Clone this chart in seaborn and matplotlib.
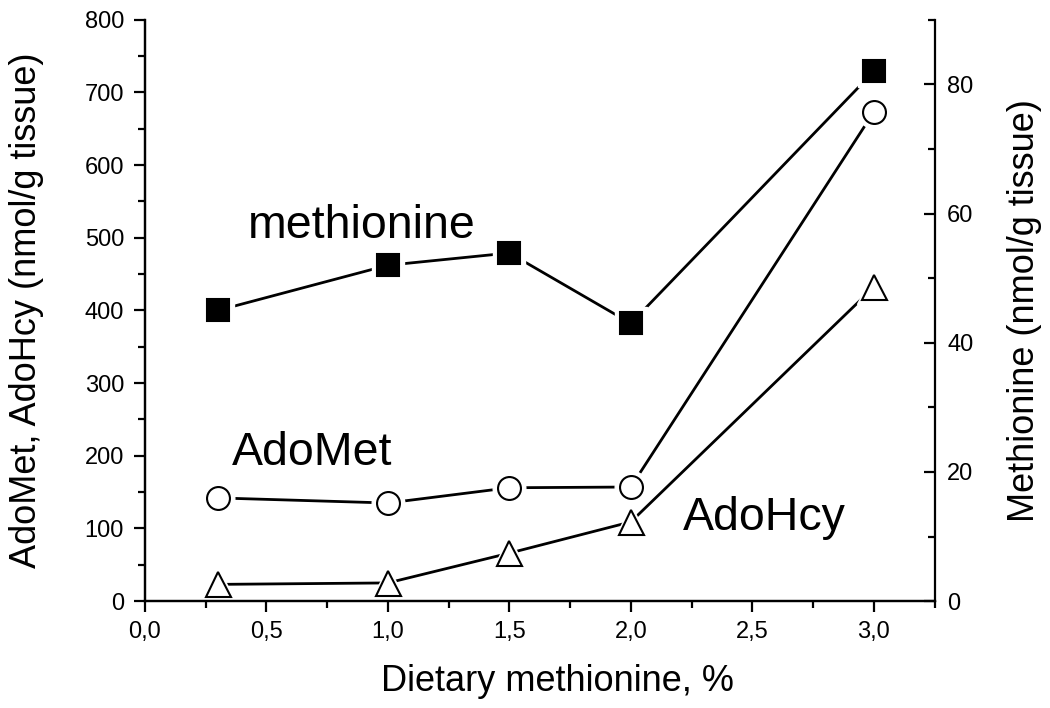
import pandas as pd
import matplotlib
matplotlib.use("Agg")
import matplotlib.pyplot as plt
from matplotlib.ticker import MultipleLocator, FuncFormatter
import seaborn as sns

# values
diet = [0.3, 1.0, 1.5, 2.0, 3.0]
methionine = [45.0, 52.0, 53.9, 43.0, 82.0]   # right axis
adomet = [142, 135, 156, 157, 673]             # left axis
adohcy = [23, 25, 66, 109, 432]                # left axis

xticks = [0.0, 0.5, 1.0, 1.5, 2.0, 2.5, 3.0]
left_ticks = [0, 100, 200, 300, 400, 500, 600, 700, 800]
right_ticks = [0, 20, 40, 60, 80]

df = pd.DataFrame({"diet": diet, "methionine": methionine,
                   "adomet": adomet, "adohcy": adohcy})

sns.set_theme(style="ticks", rc={"text.color": "black", "axes.labelcolor": "black",
                                 "xtick.color": "black", "ytick.color": "black",
                                 "axes.edgecolor": "black"})
plt.rcParams["font.family"] = ["Liberation Sans", "DejaVu Sans"]

fig, ax = plt.subplots(figsize=(10.5, 7.08), dpi=100)
fig.subplots_adjust(left=0.138, right=0.890, bottom=0.151, top=0.972)
ax2 = ax.twinx()


def draw(axis, col, marker, ms, fill):
    sns.lineplot(data=df, x="diet", y=col, ax=axis, color="black",
                 linewidth=2.0, zorder=1)
    # white halo so the line stops short of the marker
    axis.plot(df["diet"], df[col], linestyle="", marker=marker, ms=ms + 7,
              mfc="white", mec="white", zorder=2)
    axis.plot(df["diet"], df[col], linestyle="", marker=marker, ms=ms,
              mfc=fill, mec="black", mew=1.5, zorder=3)


draw(ax, "adomet", "o", 16.5, "white")
draw(ax, "adohcy", "^", 18, "white")
draw(ax2, "methionine", "s", 16, "black")

ax.set_xlim(0, 3.25)
ax.set_ylim(0, 800)
ax2.set_ylim(0, 90)

ax.set_xticks(xticks)
ax.xaxis.set_major_formatter(FuncFormatter(lambda v, p: f"{v:.1f}".replace(".", ",")))
ax.xaxis.set_minor_locator(MultipleLocator(0.25))
ax.set_yticks(left_ticks)
ax.yaxis.set_minor_locator(MultipleLocator(50))
ax2.set_yticks(right_ticks)
ax2.yaxis.set_minor_locator(MultipleLocator(10))

for a in (ax, ax2):
    a.spines["top"].set_visible(False)
    for s in a.spines.values():
        s.set_linewidth(1.6)
ax.spines["right"].set_visible(False)

ax.tick_params(axis="both", which="major", direction="out", length=8,
               width=1.6, labelsize=17, pad=6)
ax.tick_params(axis="y", which="major", pad=7)
ax.tick_params(axis="both", which="minor", direction="out", length=5, width=1.6)
ax2.tick_params(axis="y", which="major", direction="in", length=8,
                width=1.6, labelsize=17, pad=9)
ax2.tick_params(axis="y", which="minor", direction="in", length=5, width=1.6)

ax.set_xlabel("Dietary methionine, %", fontsize=26)
ax.set_ylabel("AdoMet, AdoHcy (nmol/g tissue)", fontsize=26)
ax2.set_ylabel("Methionine (nmol/g tissue)", fontsize=26)
ax.xaxis.set_label_coords(0.523, -0.108)
ax.yaxis.set_label_coords(-0.128, 0.5)
ax2.yaxis.set_label_coords(1.092, 0.5)

ax.text(0.424, 500, "methionine", fontsize=33.5, va="baseline", ha="left")
ax.text(0.358, 187, "AdoMet", fontsize=33.5, va="baseline", ha="left")
ax.text(2.214, 98, "AdoHcy", fontsize=33.5, va="baseline", ha="left")

fig.savefig("out.png", dpi=100)
